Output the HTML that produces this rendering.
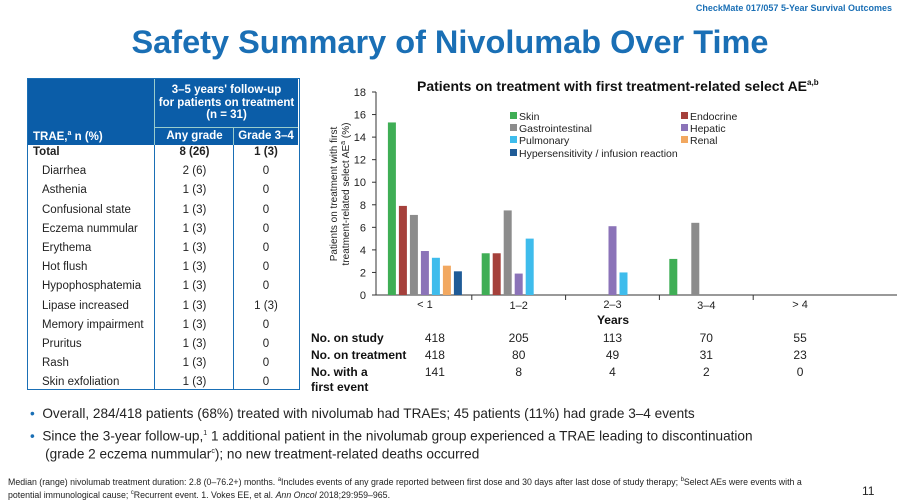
<!DOCTYPE html>
<html><head><meta charset="utf-8"><style>
body{margin:0;width:900px;height:502px;background:#fff;font-family:"Liberation Sans",sans-serif;position:relative;overflow:hidden}
.a{position:absolute;white-space:nowrap}
.r{position:absolute;left:0;width:273px;height:19.2px;font-size:11.5px;color:#222;line-height:19.2px}
.r span{position:absolute}
</style></head><body>
<div class="a" style="right:8px;top:3px;font-size:9px;font-weight:bold;color:#1a6fb5">CheckMate 017/057 5-Year Survival Outcomes</div>
<div class="a" style="left:0;width:900px;text-align:center;top:24px;font-size:32.5px;font-weight:bold;color:#1a6fb5">Safety Summary of Nivolumab Over Time</div>

<div class="a" style="left:27px;top:78px;width:273px;height:312px;border:1.5px solid #1a6fb5;box-sizing:border-box">
 <div class="a" style="left:0;top:0;width:270px;height:66px;background:#0b5da8;color:#fff;font-weight:bold;font-size:11.5px">
  <div class="a" style="left:127px;width:143px;top:5px;text-align:center;line-height:12.5px;white-space:normal">3–5 years' follow-up<br>for patients on treatment<br>(n = 31)</div>
  <div class="a" style="left:127px;top:48px;width:143px;border-top:1px solid #9cc"></div>
  <div class="a" style="left:126px;top:0;height:66px;border-left:1px solid #9cc"></div>
  <div class="a" style="left:205px;top:48px;height:18px;border-left:1px solid #9cc"></div>
  <div class="a" style="left:5px;top:51px">TRAE,<sup style="font-size:7px">a</sup> n (%)</div>
  <div class="a" style="left:127px;width:79px;top:51px;text-align:center">Any grade</div>
  <div class="a" style="left:206px;width:64px;top:51px;text-align:center">Grade 3–4</div>
 </div>
 <div class="a" style="left:126px;top:66px;height:244px;border-left:1px solid #1a6fb5"></div>
 <div class="a" style="left:205px;top:66px;height:244px;border-left:1px solid #1a6fb5"></div>
 <div id="rows" class="a" style="left:0;top:0"></div>
</div>

<svg class="a" style="left:0;top:0" width="900" height="502" id="chart"></svg>

<div class="a" style="left:30px;top:406px;font-size:13.6px;color:#222"><span style="color:#1a6fb5">•</span>&nbsp; Overall, 284/418 patients (68%) treated with nivolumab had TRAEs; 45 patients (11%) had grade 3–4 events</div>
<div class="a" style="left:30px;top:426px;font-size:13.6px;color:#222;line-height:15.5px"><span style="color:#1a6fb5">•</span>&nbsp; Since the 3-year follow-up,<sup style="font-size:7px">1</sup> 1 additional patient in the nivolumab group experienced a TRAE leading to discontinuation<br>&nbsp;&nbsp;&nbsp;&nbsp;(grade 2 eczema nummular<sup style="font-size:7px">c</sup>); no new treatment-related deaths occurred</div>
<div class="a" style="left:8px;top:475px;font-size:8.8px;color:#222;line-height:11px">Median (range) nivolumab treatment duration: 2.8 (0–76.2+) months. <sup style="font-size:6px">a</sup>Includes events of any grade reported between first dose and 30 days after last dose of study therapy; <sup style="font-size:6px">b</sup>Select AEs were events with a<br>potential immunological cause; <sup style="font-size:6px">c</sup>Recurrent event. 1. Vokes EE, et al. <i>Ann Oncol</i> 2018;29:959–965.</div>
<div class="a" style="left:862px;top:484px;font-size:12px;color:#222">11</div>

<script>
const tRows=[["Total","8 (26)","1 (3)"],["Diarrhea","2 (6)","0"],["Asthenia","1 (3)","0"],["Confusional state","1 (3)","0"],["Eczema nummular","1 (3)","0"],["Erythema","1 (3)","0"],["Hot flush","1 (3)","0"],["Hypophosphatemia","1 (3)","0"],["Lipase increased","1 (3)","1 (3)"],["Memory impairment","1 (3)","0"],["Pruritus","1 (3)","0"],["Rash","1 (3)","0"],["Skin exfoliation","1 (3)","0"]];
const rc=document.getElementById('rows');
tRows.forEach((r,i)=>{const d=document.createElement('div');d.className='r';d.style.top=(64+i*19.2)+'px';


if(i==0)d.style.fontWeight='bold';
d.innerHTML=`<span style="left:${i?14:5}px">${r[0]}</span><span style="left:127px;width:79px;text-align:center">${r[1]}</span><span style="left:206px;width:64px;text-align:center">${r[2]}</span>`;rc.appendChild(d);});

const categories=["< 1","1–2","2–3","3–4","> 4"];
const seriesNames=["Skin","Endocrine","Gastrointestinal","Hepatic","Pulmonary","Renal","Hypersensitivity / infusion reaction"];
const colors=["#3fae55","#a5403b","#8c8c8c","#8b73b8","#3ebcec","#f2a860","#1f5b97"];
const skin=[15.3,3.7,0,3.2,0];
const endocrine=[7.9,3.7,0,0,0];
const gastro=[7.1,7.5,0,6.4,0];
const hepatic=[3.9,1.9,6.1,0,0];
const pulmonary=[3.3,5.0,2.0,0,0];
const renal=[2.6,0,0,0,0];
const hyper=[2.1,0,0,0,0];
const yTicks=[0,2,4,6,8,10,12,14,16,18];
const onStudy=[418,205,113,70,55];
const onTreatment=[418,80,49,31,23];
const firstEvent=[141,8,4,2,0];
const series=[skin,endocrine,gastro,hepatic,pulmonary,renal,hyper];

const svg=document.getElementById('chart');const NS='http://www.w3.org/2000/svg';
function el(t,a,txt){const e=document.createElementNS(NS,t);for(const k in a)e.setAttribute(k,a[k]);if(txt!=null)e.textContent=txt;svg.appendChild(e);return e;}
const x0=378,x1=847,yB=295,yT=92,yMax=18;
const y=v=>yB-(v/yMax)*(yB-yT);
const bw=(x1-x0)/categories.length;
const xc=i=>x0+bw*(i+0.5);
let e;
e=el('text',{x:417,y:91,'font-size':14,'font-weight':'bold',fill:'#111'});
e.innerHTML='Patients on treatment with first treatment-related select AE<tspan font-size="8" dy="-6">a,b</tspan>';


e=el('line',{x1:376,y1:yT,x2:376,y2:yB,stroke:'#333'});


e=el('line',{x1:376,y1:yB,x2:x1+50,y2:yB,stroke:'#333'});


yTicks.forEach(t=>{el('line',{x1:372,x2:376,y1:y(t),y2:y(t),stroke:'#333'});
e=el('text',{x:366,y:y(t)+4,'font-size':11,'text-anchor':'end',fill:'#222'},t);

});
categories.forEach((c,i)=>{if(i>0)el('line',{x1:x0+bw*i,x2:x0+bw*i,y1:yB,y2:yB+5,stroke:'#333'});
e=el('text',{x:xc(i),y:yB+14+(i%2?0:-1),'font-size':11,'text-anchor':'middle',fill:'#222'},c);


[[onStudy,342],[onTreatment,359],[firstEvent,376]].forEach(([arr,yy])=>{
e=el('text',{x:xc(i)+(i==0?10:0),y:yy,'font-size':12,'text-anchor':'middle',fill:'#222'},arr[i]);

});
const slot=11;const gs=xc(i)-slot*series.length/2;
series.forEach((s,k)=>{if(s[i]<=0)return;
const b=el('rect',{x:gs+k*slot+1.5,y:y(s[i]),width:8,height:yB-y(s[i]),fill:colors[k]});

});});
e=el('text',{x:613,y:324,'font-size':12,'font-weight':'bold','text-anchor':'middle',fill:'#111'},'Years');


e=el('text',{transform:'translate(337,194) rotate(-90)','font-size':10,'text-anchor':'middle',fill:'#222'});


e.innerHTML='<tspan x="0" dy="0">Patients on treatment with first</tspan><tspan x="0" dy="12">treatment-related select AE<tspan font-size="7" dy="-4">a</tspan><tspan dy="4"> (%)</tspan></tspan>';
const lx=[510,681,510,681,510,681,510],ly=[120,120,132,132,144,144,157];
seriesNames.forEach((n,k)=>{el('rect',{x:lx[k],y:ly[k]-8,width:7,height:7,fill:colors[k]});
e=el('text',{x:lx[k]+9,y:ly[k],'font-size':10.5,fill:'#222'},n);

});
[['No. on study',342],['No. on treatment',359],['No. with a',376],['first event',391]].forEach(([t,yy])=>{
e=el('text',{x:311,y:yy,'font-size':12,'font-weight':'bold',fill:'#111'},t);

});
</script>
</body></html>
